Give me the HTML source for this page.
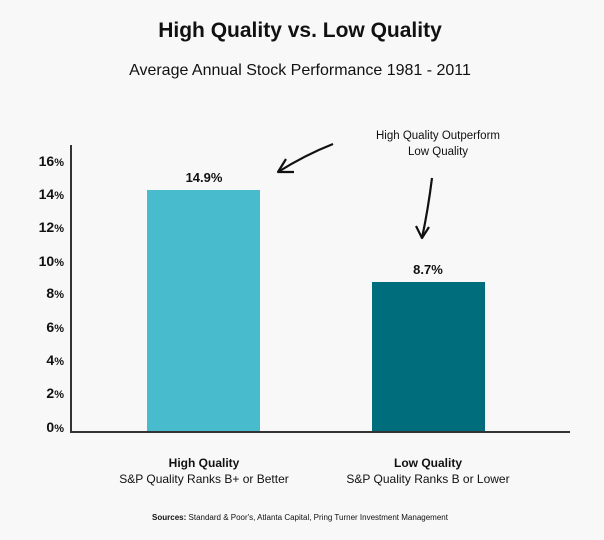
<!DOCTYPE html>
<html><head><style>
body{margin:0;background:#f8f8f8;}
svg{display:block;font-family:"Liberation Sans",sans-serif;}
</style></head><body>
<svg width="604" height="540" viewBox="0 0 604 540">
<rect width="604" height="540" fill="#f8f8f8"/>
<text x="300" y="37" text-anchor="middle" font-size="21" font-weight="bold" fill="#111">High Quality vs. Low Quality</text>
<text x="300" y="75" text-anchor="middle" font-size="16" fill="#111">Average Annual Stock Performance 1981 - 2011</text>
<g font-size="14" font-weight="bold" fill="#111" text-anchor="end">
<text x="64" y="166">16<tspan font-size="11">%</tspan></text>
<text x="64" y="199">14<tspan font-size="11">%</tspan></text>
<text x="64" y="232">12<tspan font-size="11">%</tspan></text>
<text x="64" y="266">10<tspan font-size="11">%</tspan></text>
<text x="64" y="298">8<tspan font-size="11">%</tspan></text>
<text x="64" y="332">6<tspan font-size="11">%</tspan></text>
<text x="64" y="365">4<tspan font-size="11">%</tspan></text>
<text x="64" y="398">2<tspan font-size="11">%</tspan></text>
<text x="64" y="432">0<tspan font-size="11">%</tspan></text>
</g>
<rect x="147" y="190" width="113" height="242" fill="#48bccd"/>
<rect x="372" y="282" width="113" height="150" fill="#006d7c"/>
<line x1="71" y1="145" x2="71" y2="433" stroke="#333" stroke-width="2"/>
<line x1="70" y1="432" x2="570" y2="432" stroke="#333" stroke-width="2"/>
<text x="204" y="182" text-anchor="middle" font-size="13" font-weight="bold" fill="#111">14.9%</text>
<text x="428" y="274" text-anchor="middle" font-size="13" font-weight="bold" fill="#111">8.7%</text>
<text x="438" y="139" text-anchor="middle" font-size="11.5" fill="#111">High Quality Outperform</text>
<text x="438" y="155" text-anchor="middle" font-size="11.5" fill="#111">Low Quality</text>
<path d="M333 144 Q305 155 278 172" fill="none" stroke="#111" stroke-width="2.2"/>
<path d="M286 159 L278 172 L294 172" fill="none" stroke="#111" stroke-width="2.2" stroke-linejoin="round"/>
<path d="M432 178 Q428 210 422 238" fill="none" stroke="#111" stroke-width="2.2"/>
<path d="M416 226 L422 238 L429 227" fill="none" stroke="#111" stroke-width="2.2" stroke-linejoin="round"/>
<text x="204" y="467" text-anchor="middle" font-size="12" font-weight="bold" fill="#111">High Quality</text>
<text x="204" y="483" text-anchor="middle" font-size="12" fill="#111">S&amp;P Quality Ranks B+ or Better</text>
<text x="428" y="467" text-anchor="middle" font-size="12" font-weight="bold" fill="#111">Low Quality</text>
<text x="428" y="483" text-anchor="middle" font-size="12" fill="#111">S&amp;P Quality Ranks B or Lower</text>
<text x="300" y="520" text-anchor="middle" font-size="8" fill="#111"><tspan font-weight="bold">Sources:</tspan> Standard &amp; Poor's, Atlanta Capital, Pring Turner Investment Management</text>
</svg>
</body></html>
